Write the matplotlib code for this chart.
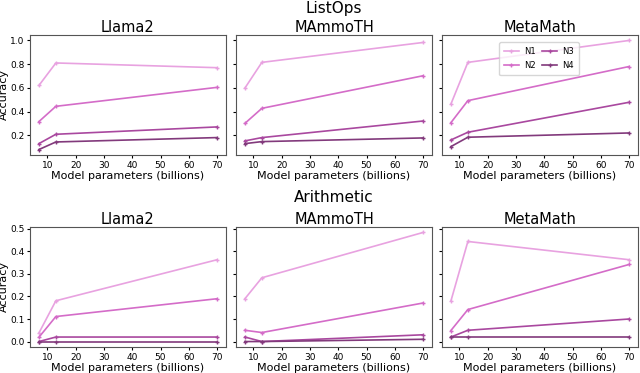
import matplotlib
matplotlib.use("Agg")
import matplotlib.pyplot as plt

sizes = [7, 13, 70]
models = ["Llama2", "MAmmoTH", "MetaMath"]
series_names = ["N1", "N2", "N3", "N4"]
colors = ["#e8a2e0", "#d46cc8", "#a9489f", "#823a7c"]

listops_llama2 = [[0.62, 0.81, 0.77], [0.315, 0.444, 0.604], [0.129, 0.208, 0.270], [0.079, 0.143, 0.180]]
listops_mammoth = [[0.598, 0.815, 0.983], [0.30, 0.427, 0.702], [0.152, 0.18, 0.32], [0.129, 0.146, 0.177]]
listops_metamath = [[0.463, 0.815, 1.0], [0.306, 0.492, 0.78], [0.16, 0.225, 0.478], [0.104, 0.183, 0.219]]

arith_llama2 = [[0.038, 0.181, 0.363], [0.019, 0.111, 0.19], [0.0, 0.02, 0.02], [0.0, 0.0, 0.0]]
arith_mammoth = [[0.19, 0.283, 0.484], [0.05, 0.04, 0.171], [0.02, 0.0, 0.03], [0.0, 0.0, 0.01]]
arith_metamath = [[0.18, 0.444, 0.363], [0.049, 0.142, 0.342], [0.02, 0.05, 0.1], [0.02, 0.02, 0.02]]

tasks = [("ListOps", [listops_llama2, listops_mammoth, listops_metamath]),
         ("Arithmetic", [arith_llama2, arith_mammoth, arith_metamath])]

fig = plt.figure(figsize=(6.4, 3.73), dpi=100)
W, H = 640, 373
lefts = [30, 236, 442]
width = 196
tops = [35, 227]
height = 120
suptitle_y = [8, 198]

for r, (task, data) in enumerate(tasks):
    axes = []
    for c, model in enumerate(models):
        rect = [lefts[c] / W, 1 - (tops[r] + height) / H, width / W, height / H]
        if c == 0:
            ax = fig.add_axes(rect)
        else:
            ax = fig.add_axes(rect, sharey=axes[0])
        axes.append(ax)
        for s, name in enumerate(series_names):
            ax.plot(sizes, data[c][s], color=colors[s], marker="+", markersize=3,
                    linewidth=1.2, label=name)
        ax.set_title(model, fontsize=10.5, pad=2.5)
        ax.set_xlabel("Model parameters (billions)", fontsize=8, labelpad=1)
        ax.set_xticks([10, 20, 30, 40, 50, 60, 70])
        ax.tick_params(labelsize=6.5, length=2.5, pad=1.5)
        for sp in ax.spines.values():
            sp.set_color("#555555")
        if c == 0:
            ax.set_ylabel("Accuracy", fontsize=8, labelpad=1)
        else:
            ax.tick_params(labelleft=False)
        if r == 0 and c == 2:
            ax.legend(ncol=2, loc="upper center", bbox_to_anchor=(0.495, 0.975),
                      fontsize=6, handlelength=1.8, columnspacing=0.8,
                      handletextpad=0.6, borderpad=0.6, labelspacing=0.6)
    fig.text(0.522, 1 - suptitle_y[r] / H, task, ha="center", va="center", fontsize=11)

fig.savefig("out.png", dpi=100)
